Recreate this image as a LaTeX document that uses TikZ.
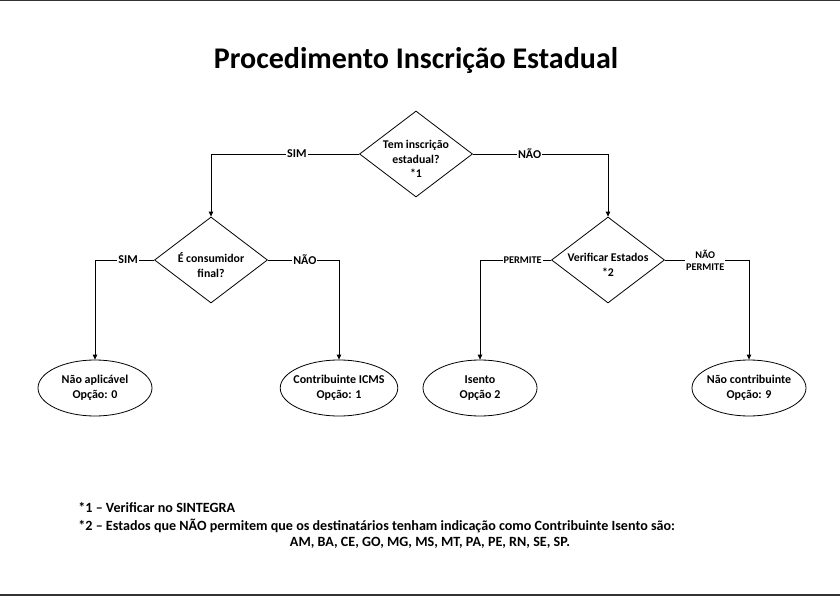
\documentclass[tikz,border=0pt]{standalone}
\usepackage{fontspec}
\setmainfont{Carlito}
\usetikzlibrary{arrows.meta, positioning, shapes.geometric}

\begin{document}
\begin{tikzpicture}[
    x=1pt, y=-1pt,
    >={Triangle[length=5pt, width=4.5pt]},
    line width=0.8pt,
    font=\bfseries,
    question/.style={diamond, draw, inner sep=0pt,
        minimum width=113pt, minimum height=86pt},
    asking/.style={align=center, yshift=-5pt,
        font=\bfseries\fontsize{11.8}{14.5}\selectfont},
    option/.style={ellipse, draw, align=center, inner xsep=-4pt, inner ysep=0pt,
        minimum width=114pt, minimum height=56pt,
        font=\bfseries\fontsize{12}{14.5}\selectfont},
    answer/.style={fill=white, inner sep=1pt, font=\bfseries\fontsize{12}{13}\selectfont},
    small answer/.style={answer, align=center, font=\bfseries\fontsize{10.3}{12}\selectfont},
    note/.style={anchor=west, inner sep=0pt, font=\bfseries\fontsize{14.1}{16}\selectfont}
]

\useasboundingbox (0,0) rectangle (840,596);

% Page edges ------------------------------------------------

\draw[line width=1.5pt, black!80] (0,0.75) -- (840,0.75);
\draw[line width=1.5pt, black!80] (0,595) -- (840,595);

% Nodes ------------------------------------------------------

\node[font=\bfseries\fontsize{30}{34}\selectfont] (title) at (416,60) {Procedimento Inscrição Estadual};

\node[question, label={[asking]center:Tem inscrição\\estadual?\\*1}] (q1) at (416,154) {};
\node[question, label={[asking]center:É consumidor\\final?}] (q2) at (211,260) {};
\node[question, label={[asking]center:Verificar Estados\\*2}] (q3) at (608,260) {};

\node[option] (o0) at (95,388) {Não aplicável\\Opção: 0};
\node[option] (o1) at (339,388) {Contribuinte ICMS\\Opção: 1};
\node[option] (o2) at (480,388) {Isento\\Opção 2};
\node[option] (o9) at (749,388) {Não contribuinte\\Opção: 9};

\node[note] (note1) at (78,508) {*1 – Verificar no SINTEGRA};
\node[note] (note2) at (78,526) {*2 – Estados que NÃO permitem que os destinatários tenham indicação como Contribuinte Isento são:};
\node[note, anchor=center] (note3) at (430,543) {AM, BA, CE, GO, MG, MS, MT, PA, PE, RN, SE, SP.};

% Arrows ---------------------------------------------------

\draw [->] (q1.west) -| node[answer, pos=0.21] {SIM} (q2.north);
\draw [->] (q1.east) -| node[answer, pos=0.21] {NÃO} (q3.north);
\draw [->] (q2.west) -| node[answer, pos=0.22] {SIM} (o0.north);
\draw [->] (q2.east) -| node[answer, pos=0.26] {NÃO} (o1.north);
\draw [->] (q3.west) -| node[small answer, pos=0.2] {PERMITE} (o2.north);
\draw [->] (q3.east) -| node[small answer, pos=0.24] {NÃO\\PERMITE} (o9.north);

\end{tikzpicture}
\end{document}
